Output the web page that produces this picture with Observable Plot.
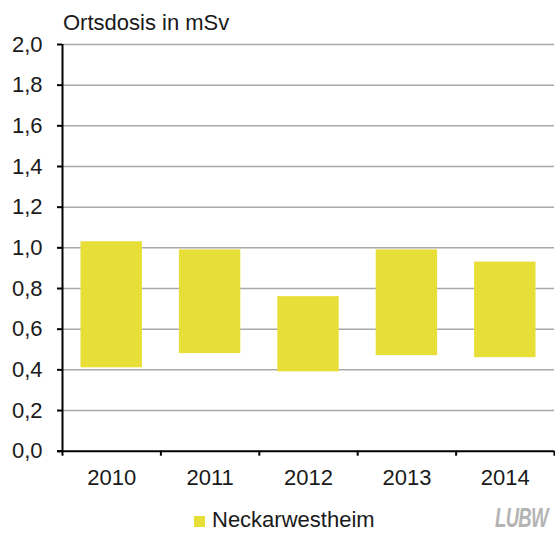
<!DOCTYPE html>
<html>
<head>
<meta charset="utf-8">
<script src="https://cdn.jsdelivr.net/npm/d3@7"></script>
<script src="https://cdn.jsdelivr.net/npm/@observablehq/plot@0.6"></script>
<style>
  html, body { margin: 0; padding: 0; background: #fff; }
  #wrap { width: 555px; height: 534px; position: relative; font-family: "Liberation Sans", Arial, sans-serif; color: #1a1a1a; overflow: hidden; }
  #title { height: 22px; padding-top: 12px; padding-left: 63px; line-height: 22px; font-size: 22px; white-space: nowrap; }
  #chart { height: 466px; }
  #legend { position: relative; height: 34px; }
  #legend .sw { position: absolute; left: 194px; top: 16px; width: 11px; height: 11px; background: #e8de38; }
  #legend .lb { position: absolute; left: 212px; top: 9px; line-height: 22px; font-size: 22px; white-space: nowrap; }
  #legend .logo { position: absolute; left: 495px; top: 4px; line-height: 28px; font-size: 28px; font-weight: bold; font-style: italic; color: #b4b4b4; transform: scaleX(0.66); transform-origin: left center; white-space: nowrap; letter-spacing: -1px; }
</style>
</head>
<body>
<div id="wrap">
  <div id="title">Ortsdosis in mSv</div>
  <div id="chart"></div>
  <div id="legend"><span class="sw"></span><span class="lb">Neckarwestheim</span><span class="logo">LUBW</span></div>
</div>
<script>
const years = ["2010", "2011", "2012", "2013", "2014"];
const minDose = [0.41, 0.48, 0.39, 0.47, 0.46];
const maxDose = [1.03, 0.99, 0.76, 0.99, 0.93];
const yTicks = [0, 0.2, 0.4, 0.6, 0.8, 1.0, 1.2, 1.4, 1.6, 1.8, 2.0];

const data = years.map((year, i) => ({year, i, lo: minDose[i], hi: maxDose[i]}));
const fmt = (v) => v.toFixed(1).replace(".", ",");

const chart = Plot.plot({
  width: 555,
  height: 466,
  marginLeft: 62,
  marginRight: 1,
  marginTop: 10,
  marginBottom: 49.3,
  x: {type: "linear", domain: [0, years.length], axis: null, label: null},
  y: {domain: [0, 2], axis: null, label: null},
  style: {fontFamily: "Liberation Sans, Arial, sans-serif", fontSize: "22px", color: "#1a1a1a", background: "white", overflow: "visible"},
  marks: [
    Plot.ruleY(yTicks.filter((v) => v > 0), {stroke: "#a8a8a8", strokeWidth: 1.5}),
    Plot.rect(data, {x1: "i", x2: (d) => d.i + 1, y1: "lo", y2: "hi", fill: "#e8de38", insetLeft: 18.5, insetRight: 18.5}),
    Plot.ruleY([0], {stroke: "#000", strokeWidth: 2, insetLeft: -5}),
    Plot.ruleX([0], {y1: 0, y2: 2, stroke: "#000", strokeWidth: 2}),
    Plot.axisY({ticks: yTicks, label: null, tickSize: 5, tickPadding: 15, tickFormat: fmt, fontSize: 22, stroke: "#000", strokeWidth: 2, fill: "#1a1a1a"}),
    Plot.axisX({ticks: d3.range(years.length + 1), label: null, tickSize: 5, tickFormat: () => "", stroke: "#000", strokeWidth: 2}),
    Plot.axisX({ticks: years.map((_, i) => i + 0.5), label: null, tickSize: 0, tickPadding: 18, tickFormat: (v) => years[Math.floor(v)], fontSize: 22, fill: "#1a1a1a"})
  ]
});
document.getElementById("chart").appendChild(chart);
</script>
</body>
</html>
